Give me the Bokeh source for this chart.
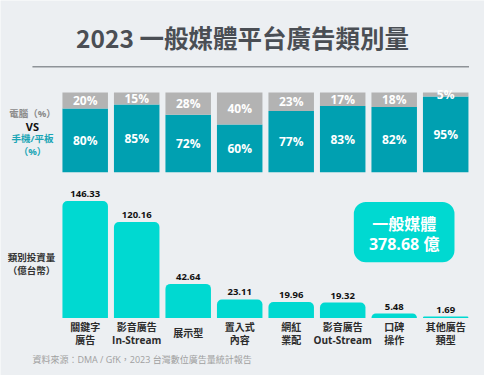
from bokeh.plotting import figure
from bokeh.models import Range1d, Label, ColumnDataSource
from bokeh.core.properties import value
from bokeh.embed import file_html
from bokeh.resources import INLINE

# ---- data ----
categories = ["關鍵字\n廣告", "影音廣告\nIn-Stream", "展示型", "置入式\n內容",
              "網紅\n業配", "影音廣告\nOut-Stream", "口碑\n操作", "其他廣告\n類型"]
desktop_pct = [20, 15, 28, 40, 23, 17, 18, 5]
mobile_pct = [80, 85, 72, 60, 77, 83, 82, 95]
spend = [146.33, 120.16, 42.64, 23.11, 19.96, 19.32, 5.48, 1.69]
total_spend = 378.68
title_text = "2023 一般媒體平台廣告類別量"
source_text = "資料來源：DMA / GfK，2023 台灣數位廣告量統計報告"

W, H = 484, 375
SX, SY = W / 500, H / 391
BG = "#ECEFF2"
GRAY = "#B3B3B3"
TEAL = "#00A0B1"
CYAN = "#00D9D1"
NUM_STR = "'Open Sans', 'Noto Sans CJK TC'"
CJK_STR = "'Noto Sans CJK TC'"
NUM_FONT = value(NUM_STR)

p = figure(width=W, height=H, output_backend="svg", toolbar_location=None,
           x_range=Range1d(0, W), y_range=Range1d(0, H),
           x_axis_location=None, y_axis_location=None,
           min_border=0, outline_line_color=None,
           background_fill_color=BG, border_fill_color=BG)
p.grid.visible = False
p.extra_x_ranges = {"cat": Range1d(-1.6447, 7.7534)}
p.extra_y_ranges = {"pct": Range1d(-255.39, 215.66), "amt": Range1d(-72.02, 397.32)}

idx = list(range(len(categories)))
parts = [c.split("\n") for c in categories]
line1 = [pp[0] if len(pp) == 2 else "" for pp in parts]
line2 = [pp[1] if len(pp) == 2 else "" for pp in parts]
single = [pp[0] if len(pp) == 1 else "" for pp in parts]
stack_top = [m + d for m, d in zip(mobile_pct, desktop_pct)]
src = ColumnDataSource(dict(
    x=idx, l1=line1, l2=line2, l0=single,
    desk=desktop_pct, mob=mobile_pct, top=stack_top,
    mob_mid=[m / 2 for m in mobile_pct],
    desk_mid=[m + d / 2 for m, d in zip(mobile_pct, desktop_pct)],
    mob_lab=[f"{m}%" for m in mobile_pct],
    desk_lab=[f"{d}%" for d in desktop_pct],
    spend=spend, spend_lab=[f"{s:.2f}" for s in spend],
    zero=[0] * len(idx),
))

BW = 47 / 53.2
# top stacked bars
p.vbar(x="x", bottom="zero", top="mob", width=BW, source=src, fill_color=TEAL,
       line_color=None, x_range_name="cat", y_range_name="pct")
p.vbar(x="x", bottom="mob", top="top", width=BW, source=src, fill_color=GRAY,
       line_color=None, x_range_name="cat", y_range_name="pct")
for ycol, lab in (("mob_mid", "mob_lab"), ("desk_mid", "desk_lab")):
    p.text(x="x", y=ycol, text=lab, source=src, text_color="white",
           text_font=NUM_FONT, text_font_style="bold", text_font_size="12px",
           text_align="center", text_baseline="middle",
           x_range_name="cat", y_range_name="pct")

# bottom bars
p.vbar(x="x", bottom="zero", top="spend", width=BW, source=src, fill_color=CYAN,
       line_color=None, border_radius=(5, 5, 0, 0),
       x_range_name="cat", y_range_name="amt")
p.text(x="x", y="spend", text="spend_lab", source=src, text_color="#111111",
       text_font=NUM_FONT, text_font_style="bold", text_font_size="9.5px",
       text_align="center", text_baseline="middle", y_offset=-7,
       x_range_name="cat", y_range_name="amt")
for col, off in (("l1", 9), ("l2", 22.5), ("l0", 15.5)):
    p.text(x="x", y="zero", text=col, source=src, text_color="#2B2B2B",
           text_font=NUM_FONT, text_font_style="bold", text_font_size="10px",
           text_align="center", text_baseline="middle", y_offset=off,
           x_range_name="cat", y_range_name="amt")

def fx(rx):
    return rx * SX

def fy(ry):
    return H - ry * SY

# title + rule
p.add_layout(Label(x=fx(250), y=fy(39), text=title_text, text_font=CJK_STR,
                   text_font_style="bold", text_font_size="24.5px", text_color="#4A4E54",
                   text_align="center", text_baseline="middle"))
p.segment(x0=[fx(33)], y0=[fy(69)], x1=[fx(484)], y1=[fy(69)],
          line_color="#8E9398", line_width=1.5)

# left labels
left_top = [("電腦（%）", "#8A8A8A", 118, "9.5px"), ("VS", "#111111", 131, "11px"),
            ("手機/平板", "#1AA5B5", 144, "9.5px"), ("（%）", "#1AA5B5", 157, "9.5px")]
for t, c, ry, fs in left_top:
    p.add_layout(Label(x=fx(33), y=fy(ry), text=t, text_font=NUM_STR,
                       text_font_style="bold", text_font_size=fs, text_color=c,
                       text_align="center", text_baseline="middle"))
for t, ry in [("類別投資量", 267), ("（億台幣）", 281)]:
    p.add_layout(Label(x=fx(32), y=fy(ry), text=t, text_font=CJK_STR,
                       text_font_style="bold", text_font_size="9.5px", text_color="#333333",
                       text_align="center", text_baseline="middle"))

# callout box
p.quad(left=[fx(365)], right=[fx(469)], top=[fy(210)], bottom=[fy(273)],
       fill_color=CYAN, line_color=None, border_radius=12)
p.add_layout(Label(x=fx(417), y=fy(232), text="一般媒體", text_font=CJK_STR,
                   text_font_style="bold", text_font_size="16px", text_color="white",
                   text_align="center", text_baseline="middle"))
p.add_layout(Label(x=fx(417), y=fy(254), text=f"{total_spend:.2f} 億", text_font=NUM_STR,
                   text_font_style="bold", text_font_size="16px", text_color="white",
                   text_align="center", text_baseline="middle"))

# source
p.add_layout(Label(x=fx(33), y=fy(374), text=source_text, text_font=NUM_STR,
                   text_font_size="9px", text_color="#A0A0A0",
                   text_align="left", text_baseline="middle"))

open("out.html", "w").write(file_html(p, INLINE))
